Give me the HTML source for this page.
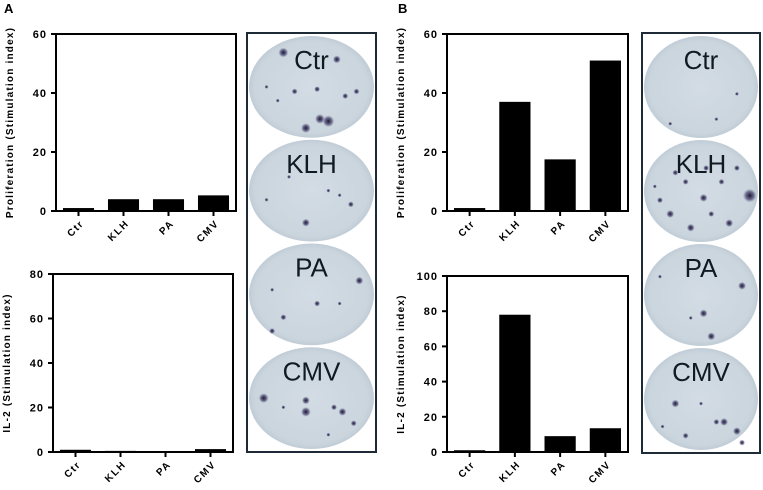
<!DOCTYPE html>
<html><head><meta charset="utf-8"><style>
body{margin:0;background:#fff;width:763px;height:490px;overflow:hidden;font-family:"Liberation Sans",Arial,sans-serif}
svg{display:block}
</style></head><body>
<svg id="fig" width="763" height="490" xmlns="http://www.w3.org/2000/svg">
<defs>
<radialGradient id="well" cx="50%" cy="50%" r="50%">
<stop offset="0%" stop-color="#d3dce4"/><stop offset="90%" stop-color="#cbd5de"/><stop offset="100%" stop-color="#c0ccd6"/>
</radialGradient>
<radialGradient id="spot"><stop offset="0%" stop-color="#1a1530"/><stop offset="60%" stop-color="#4a4570" stop-opacity="0.7"/><stop offset="100%" stop-color="#8088a8" stop-opacity="0"/></radialGradient>
</defs>
<text x="4" y="13" font-size="13" font-weight="bold">A</text>
<text x="398" y="13" font-size="13" font-weight="bold">B</text>
<g id="charts"></g>
<g id="wells"></g>
</svg>
<script>
const categories = ["Ctr","KLH","PA","CMV"];
const aProlifValues = [1, 4, 4, 5.3];
const aIl2Values = [1, 0.5, 0.4, 1.3];
const bProlifValues = [1, 37, 17.5, 51];
const bIl2Values = [1, 78, 9, 13.5];
const ticks60 = [0,20,40,60];
const ticks80 = [0,20,40,60,80];
const ticks100 = [0,20,40,60,80,100];

const NS="http://www.w3.org/2000/svg";
function mk(tag,attrs,parent){const e=document.createElementNS(NS,tag);for(const k in attrs)e.setAttribute(k,attrs[k]);parent.appendChild(e);return e;}
const chartsG=document.getElementById('charts');

function chart(name,x0,x1,y0,y1,vals,ticks,ytitle){
  const g=mk('g',{},chartsG);
  
  
  const maxV=ticks[ticks.length-1];
  const ys=v=>y1-(v/maxV)*(y1-y0);
  const step=(x1-x0)/categories.length;
  const xs=i=>x0+step*(i+0.5);
  const bw=step*0.69;
  vals.forEach((v,i)=>{
    const r=mk('rect',{x:xs(i)-bw/2,y:ys(v),width:bw,height:y1-ys(v),fill:'#000'},g);
    
    
  });
  const fr=mk('rect',{x:x0,y:y0,width:x1-x0,height:y1-y0,fill:'none',stroke:'#000','stroke-width':2},g);
  
  
  ticks.forEach(t=>{
    mk('line',{x1:x0-5,x2:x0,y1:ys(t),y2:ys(t),stroke:'#000','stroke-width':2},g);
    const tx=mk('text',{x:x0-9,y:ys(t)+4,'font-size':11,'font-weight':'bold','text-anchor':'end','letter-spacing':'1'},g);
    tx.textContent=t;
    
    
  });
  categories.forEach((c,i)=>{
    mk('line',{x1:xs(i),x2:xs(i),y1:y1,y2:y1+5,stroke:'#000','stroke-width':2},g);
    const tx=mk('text',{x:xs(i)+6,y:y1+13,'font-size':10,'font-weight':'bold','text-anchor':'end','letter-spacing':'1.5',transform:`rotate(-45 ${xs(i)+6} ${y1+13})`},g);
    tx.textContent=c;
    
    
  });
  const cy=(y0+y1)/2, tx0=x0-43;
  const tt=mk('text',{x:tx0,y:cy,'font-size':10,'font-weight':'bold','text-anchor':'middle','letter-spacing':'1.2',transform:`rotate(-90 ${tx0} ${cy})`},g);
  tt.textContent=ytitle;
  
  
}
chart('chart-a-proliferation',56,236,34,211,aProlifValues,ticks60,'Proliferation (Stimulation index)');
chart('chart-a-il2',53,233,274,452,aIl2Values,ticks80,'IL-2 (Stimulation index)');
chart('chart-b-proliferation',447,628,34,211,bProlifValues,ticks60,'Proliferation (Stimulation index)');
chart('chart-b-il2',447,628,276,452,bIl2Values,ticks100,'IL-2 (Stimulation index)');

const wellsG=document.getElementById('wells');
const spotsA=[[[-0.5,-0.75,5],[0.45,-0.6,4],[0.3,0.75,6],[0.15,0.7,5],[-0.1,0.9,5],[-0.3,0.1,3],[0.6,0.2,3],[0.1,0.05,3],[-0.6,0.3,2],[0.8,0.1,3],[-0.8,0.0,2]],
 [[-0.1,0.7,4],[0.7,0.3,3],[-0.4,-0.3,2],[0.3,0,2],[0.5,0.1,2],[-0.8,0.2,2]],
 [[0.85,-0.3,4],[-0.5,0.5,3],[-0.7,0.8,3],[0.1,0.2,3],[-0.7,-0.1,2],[0.5,0.2,2]],
 [[-0.85,0,5],[-0.1,0.3,5],[-0.1,0.05,4],[0.55,0.3,4],[0.4,0.2,3],[0.75,0.55,3],[-0.5,0.2,2],[0.3,0.8,2]]];
const spotsB=[[[0.7,0.15,2],[-0.6,0.8,2],[0.3,0.7,2]],
 [[0.95,0.1,7],[-0.6,0.5,4],[0.05,0.15,4],[0.4,-0.2,3],[-0.2,0.8,4],[0.55,0.7,4],[-0.8,0.2,3],[-0.3,-0.2,3],[0.1,-0.5,3],[-0.5,-0.4,3],[0.7,-0.5,3],[0.2,0.5,3],[-0.9,-0.1,2]],
 [[0.8,-0.2,4],[-0.8,-0.4,2],[0.05,0.4,4],[0.2,0.9,4],[-0.2,0.5,2]],
 [[-0.5,0.1,4],[0.45,0.5,4],[0.7,0.7,4],[0.3,0.5,3],[-0.3,0.8,3],[0.8,0.95,3],[-0.75,0.6,2],[0.0,0.1,2]]];
function wells(name,bx0,bx1,by0,by1,spots,labels){
  const g=mk('g',{},wellsG);
  
  
  const fr=mk('rect',{x:bx0,y:by0,width:bx1-bx0,height:by1-by0,fill:'#fff',stroke:'#1e2a36','stroke-width':2},g);
  
  
  const h=(by1-by0-4)/4, cx=(bx0+bx1)/2, rx=(bx1-bx0)/2-2, ry=h/2-1;
  labels.forEach((l,i)=>{
    const cy=by0+2+h*(i+0.5);
    const e=mk('ellipse',{cx:cx,cy:cy,rx:rx,ry:ry,fill:'url(#well)'},g);
    
    
    spots[i].forEach(s=>mk('circle',{cx:cx+s[0]*rx*0.9,cy:cy+s[1]*ry*0.9,r:s[2],fill:'url(#spot)'},g));
    const t=mk('text',{x:cx,y:cy-ry+33,'font-size':26,'text-anchor':'middle',fill:'#111a22'},g);
    t.textContent=l;
    
    
  });
}
wells('well-images-a',247,376,33,452,spotsA,categories);
wells('well-images-b',642,760,33,453,spotsB,categories);
</script>
</body></html>
